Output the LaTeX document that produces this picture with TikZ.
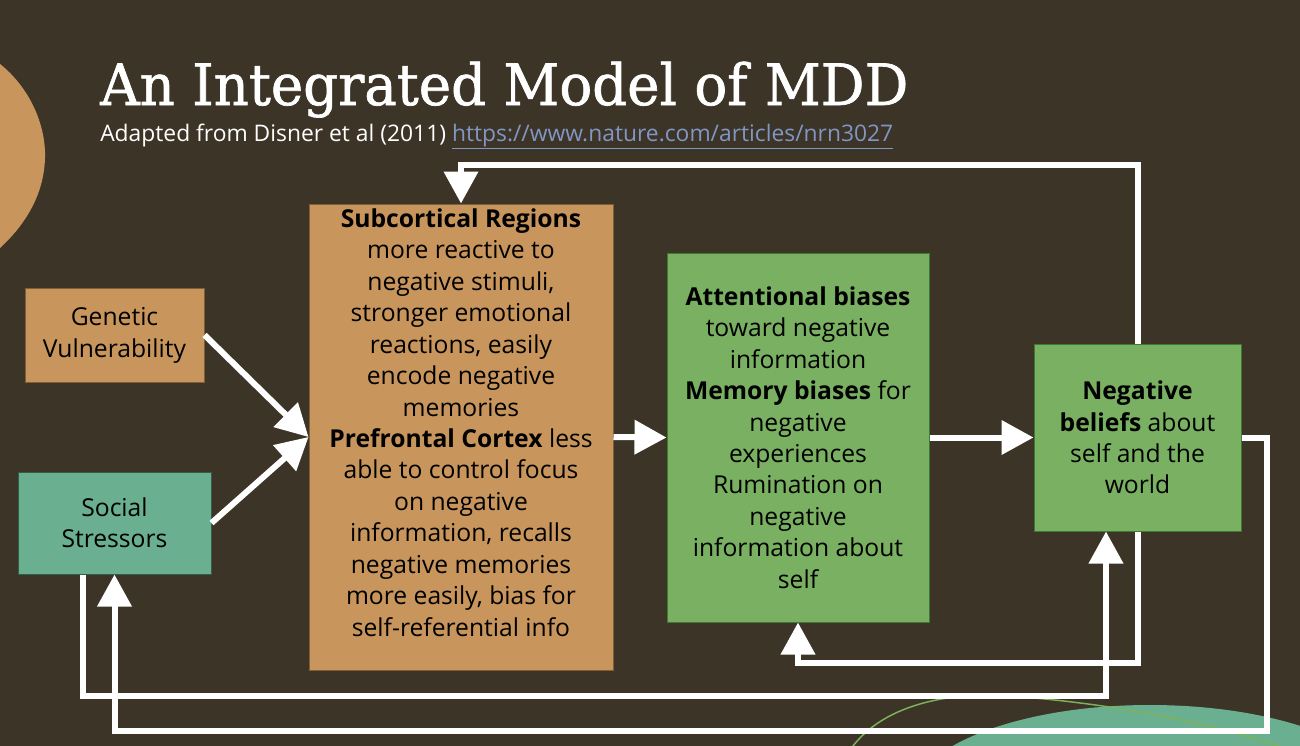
\documentclass[tikz,border=0pt]{standalone}
\usepackage{fontspec}
\setmainfont{Open Sans}
\newfontfamily\titlefont{DejaVu Serif}[RawFeature={embolden=1.2}]
\usetikzlibrary{arrows.meta}
\definecolor{bg}{HTML}{3D3428}
\definecolor{tanfill}{HTML}{C8965C}
\definecolor{tanedge}{HTML}{7F5F35}
\definecolor{tealfill}{HTML}{6AAF8F}
\definecolor{tealedge}{HTML}{2F5F48}
\definecolor{greenfill}{HTML}{79B061}
\definecolor{greenedge}{HTML}{3E7A32}
\definecolor{urlblue}{HTML}{8196C3}
\definecolor{thinline}{HTML}{7DB35A}
\newcommand{\bodyfont}{\fontsize{18.5pt}{23.6pt}\selectfont}
\tikzset{
  box/.style={draw, line width=0.75pt, inner sep=0pt, align=center, font=\bodyfont, text=black},
  boxtext/.style={inner sep=0pt, align=center, font=\bodyfont, text=black},
  conn/.style={draw=white, line width=4.5pt, -{Triangle[length=24pt,width=25pt]}}
}
\begin{document}
\begin{tikzpicture}[x=0.75pt,y=-0.75pt]
\useasboundingbox (0,0) rectangle (1300,746);
\fill[bg] (0,0) rectangle (1300,746);
\begin{scope}
\clip (0,0) rectangle (1300,746);
\fill[tanfill] (0,64) .. controls (30,88) and (46,125) .. (45,158)
  .. controls (44,195) and (25,225) .. (0,248) -- cycle;
\fill[tealfill] (1150,800) ellipse [x radius=240, y radius=95];
\draw[thinline, line width=1.1pt] (850,750) .. controls (885,700) and (960,692) .. (1010,696)
  .. controls (1120,704) and (1220,725) .. (1290,750);
\end{scope}

% title
\node[anchor=base west, inner sep=0pt, text=white] (title) at (100,105) {\resizebox{606pt}{32.5pt}{\titlefont An Integrated Model of MDD}};
\node[anchor=base west, inner sep=0pt, text=white] (subt) at (100,141) {\resizebox{594.75pt}{!}{\fontsize{16pt}{18pt}\selectfont Adapted from Disner et al (2011) \textcolor{urlblue}{\underline{https://www.nature.com/articles/nrn3027}}}};

% boxes
\node[box, fill=tanfill, draw=tanedge, minimum width=134.25pt, minimum height=70.5pt] (gen) at (114.5,335) {\raisebox{-3pt}{\begin{tabular}{@{}c@{}}Genetic\\Vulnerability\end{tabular}}};
\node[box, fill=tealfill, draw=tealedge, minimum width=144.75pt, minimum height=76.5pt] (soc) at (114.5,523) {Social\\Stressors};
\node[box, fill=tanfill, draw=tanedge, minimum width=228pt, minimum height=349.5pt] (sub) at (461,437) {};
\node[boxtext] (subtext) at (461,422.5) {\textbf{Subcortical Regions}\\more reactive to\\negative stimuli,\\stronger emotional\\reactions, easily\\encode negative\\memories\\\textbf{Prefrontal Cortex} less\\able to control focus\\on negative\\information, recalls\\negative memories\\more easily, bias for\\self-referential info};
\node[box, fill=greenfill, draw=greenedge, minimum width=196.5pt, minimum height=276.75pt] (att) at (798,437.5) {\textbf{Attentional biases}\\toward negative\\information\\\textbf{Memory biases} for\\negative\\experiences\\Rumination on\\negative\\information about\\self};
\node[box, fill=greenfill, draw=greenedge, minimum width=155.25pt, minimum height=140.25pt] (nb) at (1137.5,437.5) {\textbf{Negative}\\\textbf{beliefs} about\\self and the\\world};

% helper coordinates
\coordinate (top1) at (1137.5,165);
\coordinate (r1) at (1267,437.5);
\coordinate (r2) at (1267,731);
\coordinate (b1) at (83,696);
\coordinate (b2) at (1106,696);
\coordinate (c1) at (1137.5,663);
\coordinate (c2) at (798,663);

% connectors
\draw[conn] (gen.east) -- (sub.west);
\draw[conn] (soc.east) -- (sub.west);
\draw[conn] (sub.east) -- (att.west);
\draw[conn] (att.east) -- (nb.west);
\draw[conn] (nb.north) -- (top1) -| (sub.north);
\draw[conn] (nb.east) -- (r1) -- (r2) -| (soc.south);
\draw[conn] (b1 |- soc.south) -- (b1) -- (b2) -- (b2 |- nb.south);
\draw[conn] (nb.south) -- (c1) -- (c2) -- (att.south);
\end{tikzpicture}
\end{document}
